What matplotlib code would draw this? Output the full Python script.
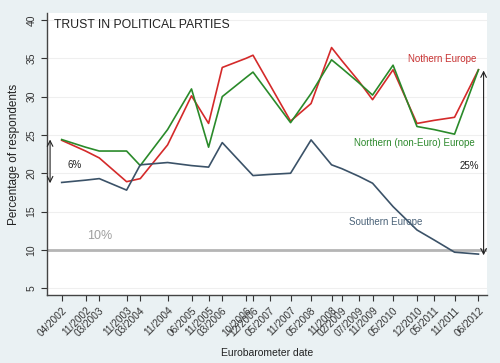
import matplotlib
matplotlib.use('Agg')
import matplotlib.pyplot as plt

plt.rcParams['font.family'] = ['Liberation Sans', 'DejaVu Sans']

# Eurobarometer survey dates
dates = ['04/2002', '11/2002', '03/2003', '11/2003', '03/2004', '11/2004', '06/2005',
         '11/2005', '03/2006', '10/2006', '12/2006', '05/2007', '11/2007', '05/2008',
         '11/2008', '02/2009', '07/2009', '11/2009', '05/2010', '12/2010', '05/2011',
         '11/2011', '06/2012']

northern = [24.3, 22.9, 22.0, 18.9, 19.3, 23.7, 30.1, 26.5, 33.8, 35.0, 35.4, 31.5,
            26.8, 29.1, 36.4, 34.7, 32.0, 29.6, 33.5, 26.5, 26.9, 27.3, 33.5]
non_euro = [24.4, 23.4, 22.9, 22.9, 21.0, 25.7, 31.0, 23.4, 30.0, 32.5, 33.2, 30.2,
            26.6, 30.4, 34.8, 33.7, 31.8, 30.2, 34.1, 26.1, 25.7, 25.1, 33.5]
southern = [18.8, 19.1, 19.3, 17.8, 21.1, 21.4, 21.0, 20.8, 24.0, 20.65, 19.7, 19.85,
            20.0, 24.35, 21.1, 20.6, 19.6, 18.7, 15.65, 12.6, 11.3, 9.7, 9.45]

# months since 04/2002
def month_index(d):
    m, y = d.split('/')
    return (int(y) - 2002) * 12 + int(m) - 4

x = [month_index(d) for d in dates]

bg = '#eaf1f3'
fig = plt.figure(figsize=(5, 3.63), dpi=100, facecolor=bg)
ax = fig.add_axes([0.094, 0.187, 0.88, 0.777])
ax.set_facecolor('white')

ax.axhline(10, color='#b5b5b5', lw=2, zorder=1)
ax.plot(x, northern, color='#d42a2a', lw=1.2, zorder=3)
ax.plot(x, non_euro, color='#2a8a2a', lw=1.2, zorder=3)
ax.plot(x, southern, color='#3b5268', lw=1.2, zorder=3)

ax.set_xlim(-4.3, 124.5)
ax.set_ylim(4.1, 40.9)
ax.set_yticks([5, 10, 15, 20, 25, 30, 35, 40])
ax.set_yticklabels(['5', '10', '15', '20', '25', '30', '35', '40'], rotation=90,
                   va='center', fontsize=7.5, color='#333333')
ax.set_xticks(x)
ax.set_xticklabels(dates, rotation=45, ha='right', rotation_mode='anchor',
                   fontsize=7.2, color='#333333')
ax.tick_params(axis='both', length=4, width=0.8, color='#333333')
ax.grid(axis='y', color='#efefef', lw=0.8)
ax.set_axisbelow(True)
for s in ['top', 'right']:
    ax.spines[s].set_visible(False)
for s in ['left', 'bottom']:
    ax.spines[s].set_color('#444444')
    ax.spines[s].set_linewidth(1.0)

ax.set_ylabel('Percentage of respondents', fontsize=8.5, color='#222222', labelpad=5)
ax.set_xlabel('Eurobarometer date', fontsize=7.5, color='#222222', labelpad=7)

ax.text(-2.2, 39.4, 'TRUST IN POLITICAL PARTIES', fontsize=8.8, color='#222222',
        va='center', ha='left')
ax.text(101.5, 34.9, 'Nothern Europe', fontsize=7, color='#c83232', va='center')
ax.text(85.5, 24.0, 'Northern (non-Euro) Europe', fontsize=7, color='#2e8a2e', va='center')
ax.text(84, 13.7, 'Southern Europe', fontsize=7, color='#4a6278', va='center')
ax.text(116.5, 20.9, '25%', fontsize=7, color='#222222', va='center')
ax.text(1.8, 21.1, '6%', fontsize=7, color='#222222', va='center')
ax.text(7.5, 11.8, '10%', fontsize=9, color='#a0a0a0', va='center')

arrow = dict(arrowstyle='<->', color='#222222', lw=0.8, shrinkA=0, shrinkB=0)
ax.annotate('', xy=(-3.4, 24.4), xytext=(-3.4, 18.7), arrowprops=arrow)
ax.annotate('', xy=(123.5, 33.4), xytext=(123.5, 9.3), arrowprops=arrow)

fig.savefig('out.png', dpi=100, facecolor=bg)
